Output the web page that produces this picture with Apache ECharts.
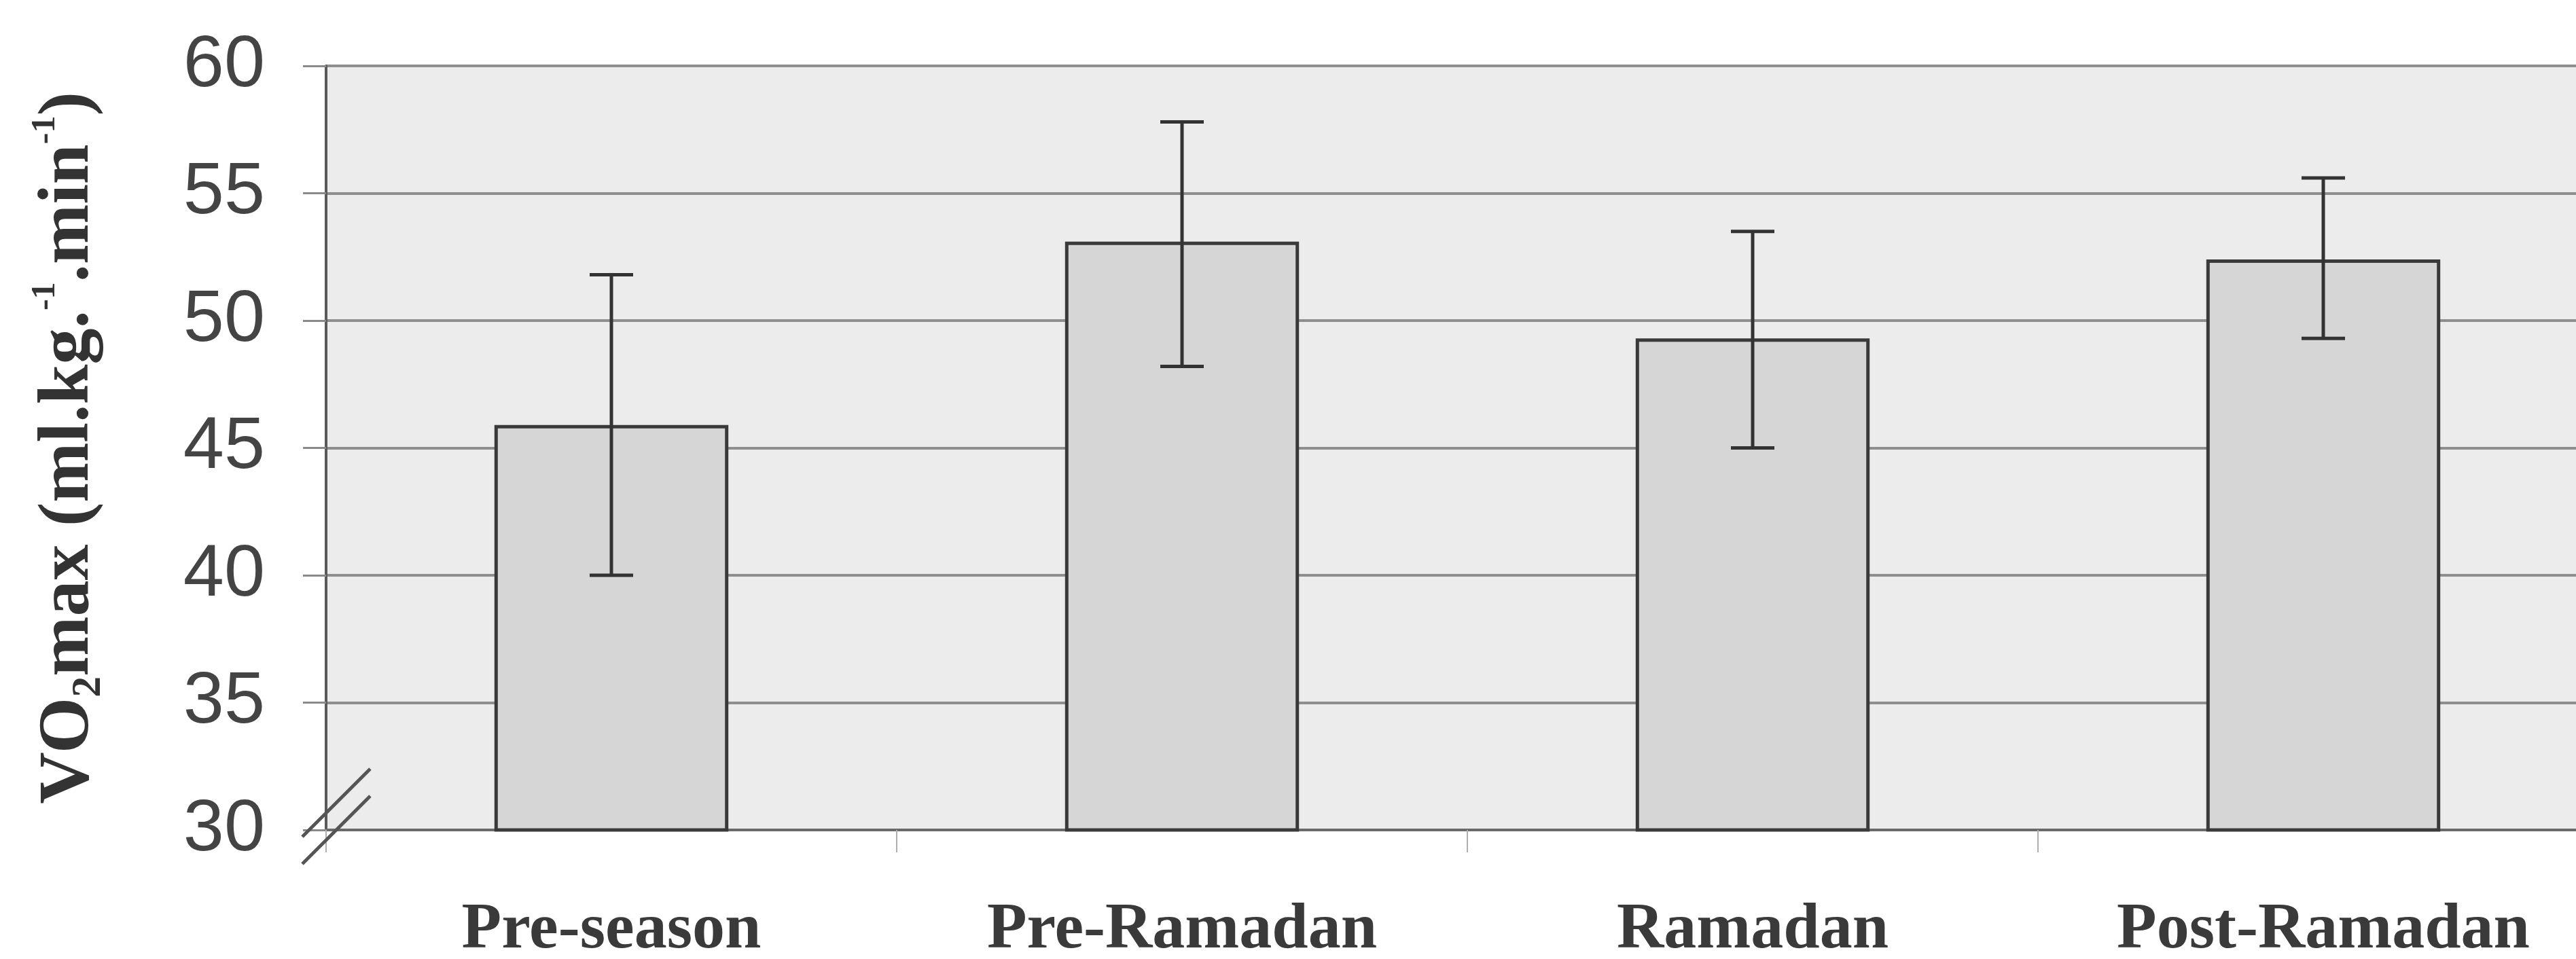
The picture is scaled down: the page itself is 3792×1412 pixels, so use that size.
<!DOCTYPE html>
<html>
<head>
<meta charset="utf-8">
<script src="https://cdn.jsdelivr.net/npm/echarts@6/dist/echarts.min.js"></script>
<style>
  html, body { margin: 0; padding: 0; background: #ffffff; }
  #chart { width: 3792px; height: 1412px; }
</style>
</head>
<body>
<div id="chart"></div>
<script>
// ---- data ----
const categories = ['Pre-season', 'Pre-Ramadan', 'Ramadan', 'Post-Ramadan'];
const meanValues = [45.9, 53.1, 49.3, 52.4];
const errLow     = [40.0, 48.2, 45.0, 49.3];
const errHigh    = [51.8, 57.8, 53.5, 55.6];
const yTicks     = [30, 35, 40, 45, 50, 55, 60];

const errData = categories.map((c, i) => [i, errLow[i], errHigh[i]]);

const chart = echarts.init(document.getElementById('chart'), null, { renderer: 'canvas' });

const option = {
  backgroundColor: '#ffffff',
  animation: false,
  grid: {
    left: 480, top: 97, width: 3360, height: 1125,
    outerBoundsMode: 'none',
    containLabel: false,
    show: true, backgroundColor: '#ececec', borderWidth: 0
  },
  xAxis: {
    type: 'category',
    data: categories,
    boundaryGap: true,
    axisLine: { show: true, lineStyle: { color: '#6a6a6a', width: 4 } },
    axisTick: { show: true, interval: 0, length: 33, lineStyle: { color: '#b0b0b0', width: 2 } },
    axisLabel: {
      interval: 0, margin: 100,
      fontFamily: 'Liberation Serif', fontWeight: 'bold', fontSize: 96,
      lineHeight: 96, color: '#3a3a3a'
    },
    splitLine: { show: false }
  },
  yAxis: {
    type: 'value',
    min: yTicks[0], max: yTicks[yTicks.length - 1], interval: 5,
    axisLine: { show: true, lineStyle: { color: '#5a5a5a', width: 4 } },
    axisTick: { show: true, inside: false, length: 34, lineStyle: { color: '#8a8a8a', width: 3 } },
    axisLabel: {
      margin: 90, fontFamily: 'Liberation Sans', fontSize: 108, color: '#444444'
    },
    splitLine: { show: true, lineStyle: { color: '#8e8e8e', width: 4 } },
    name: '{b|VO}{sub|2}{b|max (ml.kg.}{sup|-1}{b|.min}{sup|-1}{b|)}',
    nameLocation: 'middle',
    nameRotate: 90,
    nameGap: 318,
    nameTextStyle: {
      rich: {
        b:   { fontFamily: 'Liberation Serif', fontWeight: 'bold', fontSize: 106, lineHeight: 120, color: '#333333' },
        sub: { fontFamily: 'Liberation Serif', fontWeight: 'bold', fontSize: 62, lineHeight: 62, verticalAlign: 'bottom', color: '#333333' },
        sup: { fontFamily: 'Liberation Serif', fontWeight: 'bold', fontSize: 50, lineHeight: 50, verticalAlign: 'top', color: '#333333' }
      }
    }
  },
  series: [
    {
      type: 'bar',
      data: meanValues,
      barWidth: '41%',
      itemStyle: { color: '#d6d6d6', borderColor: '#3a3a3a', borderWidth: 5 },
      z: 2
    },
    {
      type: 'custom',
      data: errData,
      encode: { x: 0, y: [1, 2] },
      z: 5,
      renderItem: function (params, api) {
        const idx = api.value(0);
        const lo = api.coord([idx, api.value(1)]);
        const hi = api.coord([idx, api.value(2)]);
        const hw = 32;
        const st = { stroke: '#333333', lineWidth: 5 };
        return {
          type: 'group',
          children: [
            { type: 'line', shape: { x1: lo[0], y1: lo[1], x2: hi[0], y2: hi[1] }, style: st },
            { type: 'line', shape: { x1: hi[0] - hw, y1: hi[1], x2: hi[0] + hw, y2: hi[1] }, style: st },
            { type: 'line', shape: { x1: lo[0] - hw, y1: lo[1], x2: lo[0] + hw, y2: lo[1] }, style: st }
          ]
        };
      }
    }
  ]
};

chart.setOption(option);

// axis-break marks "//" on the y axis at its minimum
const rect = chart.getModel().getComponent('grid').coordinateSystem.getRect();
const by = chart.convertToPixel({ yAxisIndex: 0 }, yTicks[0]);
const bx = rect.x;
const half = 50;
const brk = (dy) => ({
  type: 'line',
  shape: { x1: bx + 15 - half, y1: by + dy + half, x2: bx + 15 + half, y2: by + dy - half },
  style: { stroke: '#555555', lineWidth: 5 },
  z: 20
});
chart.setOption({ graphic: [brk(-40), brk(0)] });
</script>
</body>
</html>
